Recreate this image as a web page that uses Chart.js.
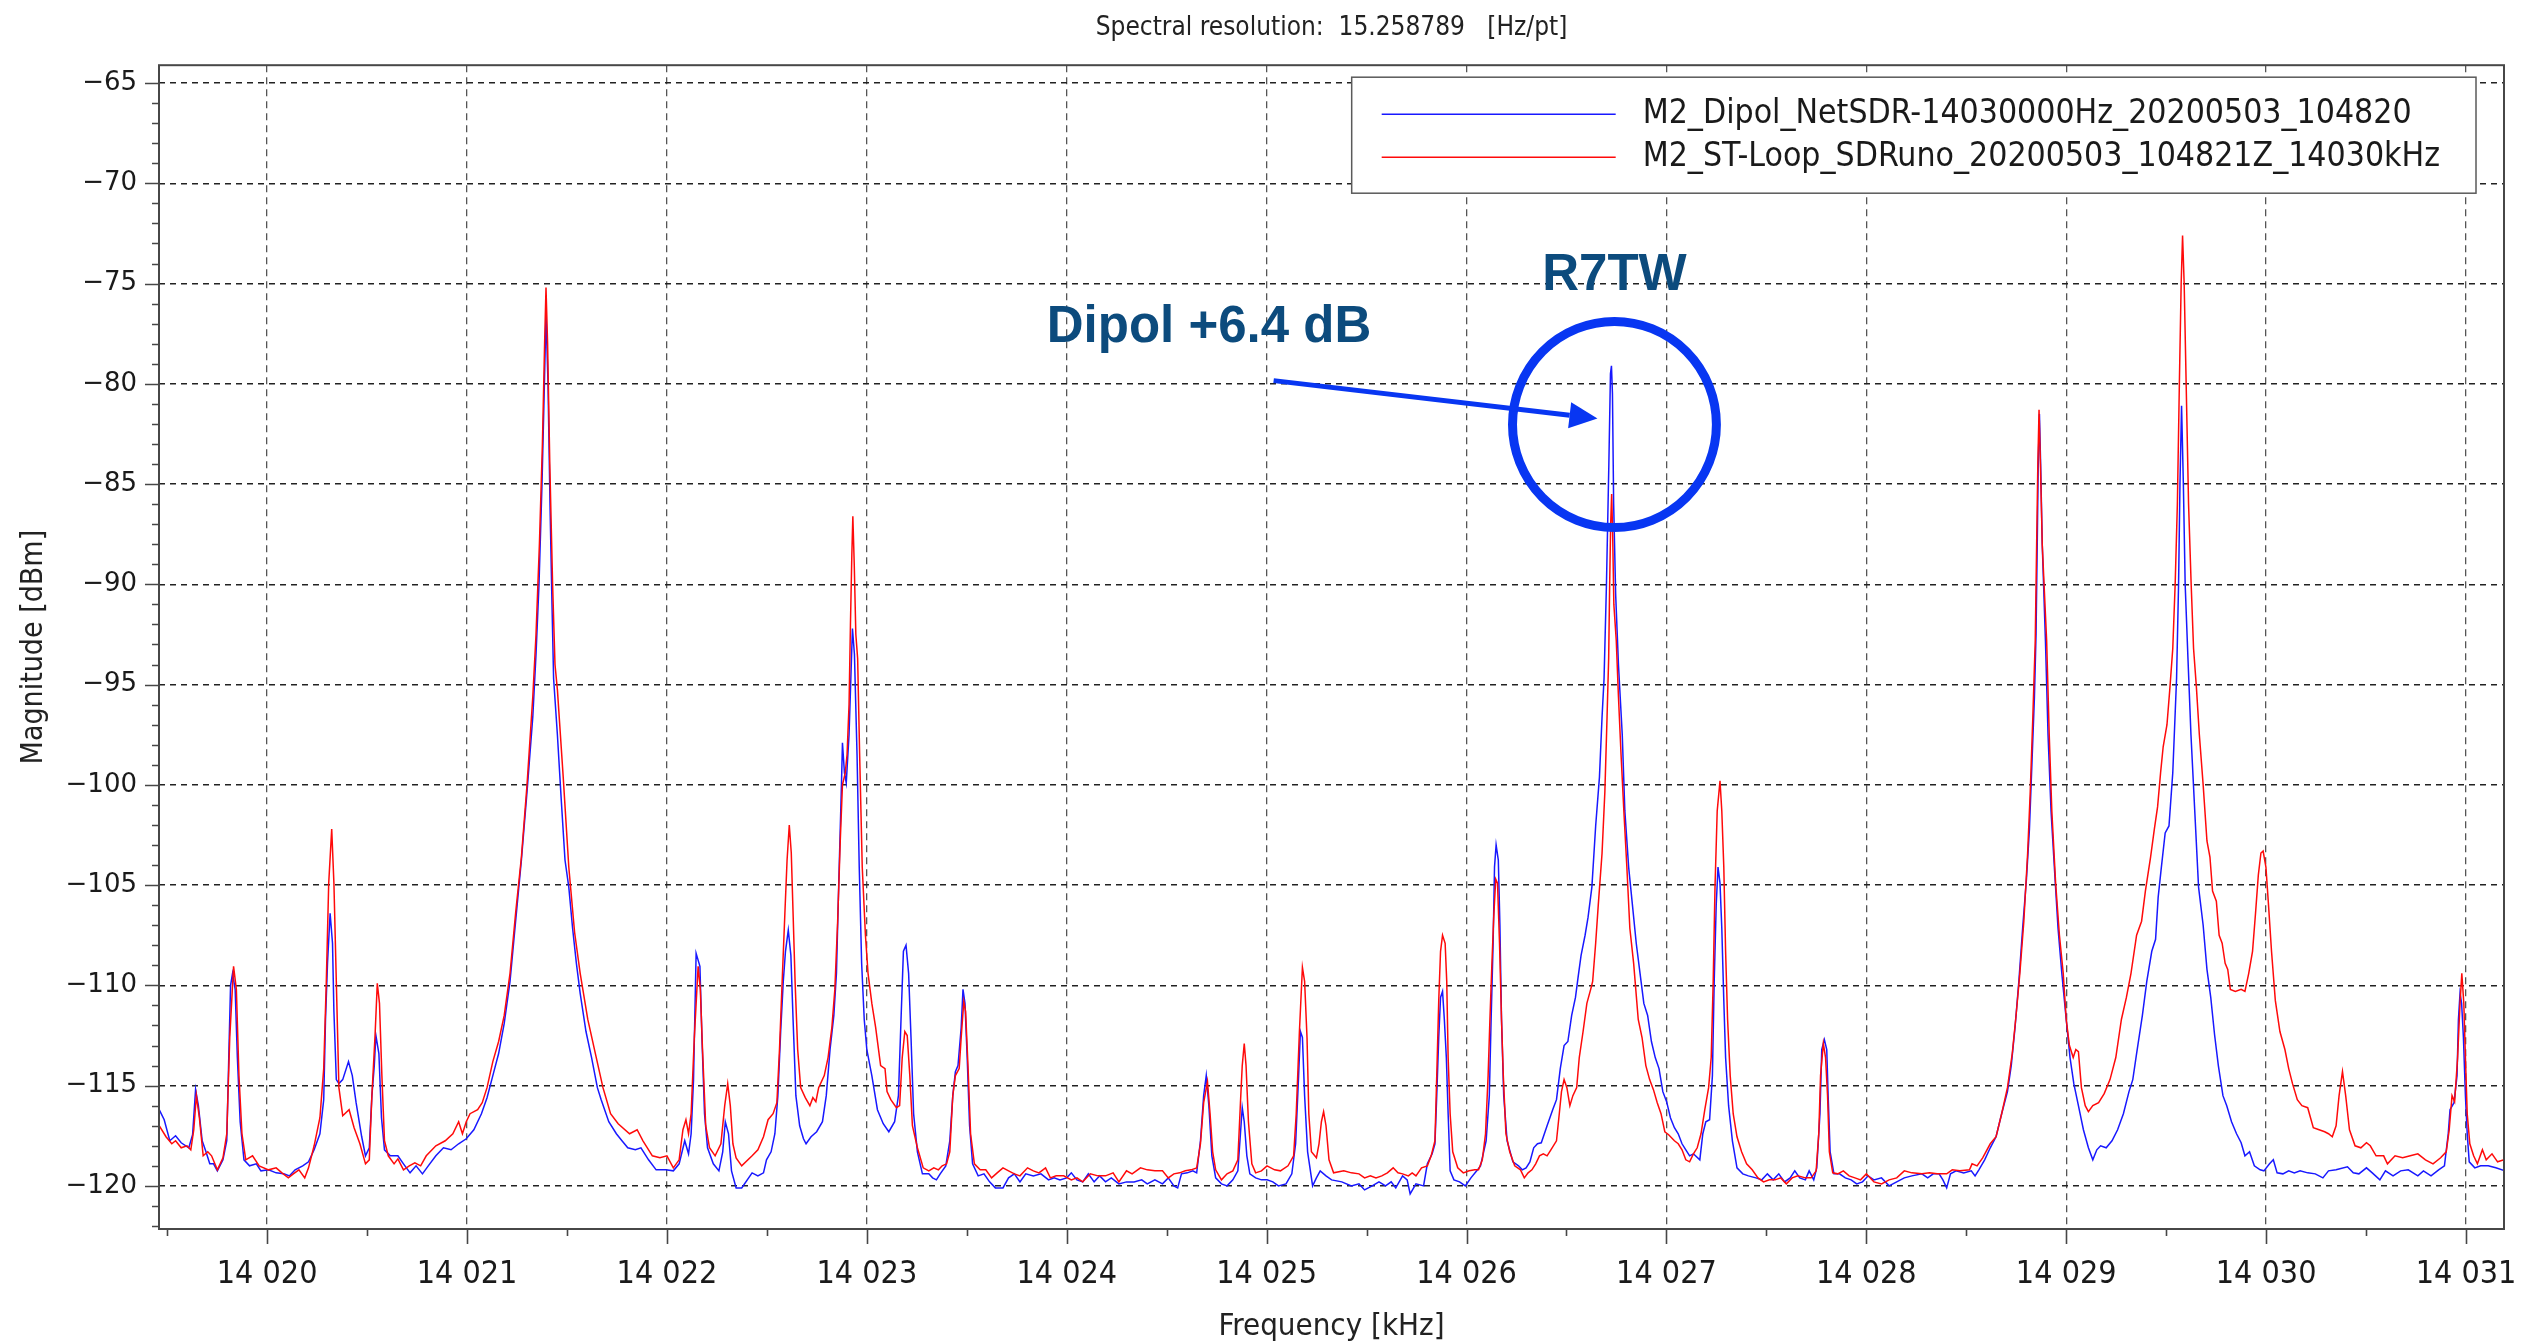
<!DOCTYPE html>
<html>
<head>
<meta charset="utf-8">
<title>Spectral resolution</title>
<script src="https://cdn.jsdelivr.net/npm/chart.js@4.4.1/dist/chart.umd.min.js"></script>
<style>
  html, body { margin: 0; padding: 0; background: #fff; }
  #spectrum { display: block; }
</style>
</head>
<body>
<canvas id="spectrum" width="2545" height="1343"></canvas>
<script>
// Dipole receiver trace (NetSDR), frequency in kHz and magnitude in dBm
const dipolKHz = [
  14019.460, 14019.485, 14019.513, 14019.542, 14019.570, 14019.608, 14019.627, 14019.642,
  14019.656, 14019.675, 14019.694, 14019.713, 14019.732, 14019.751, 14019.779, 14019.798,
  14019.808, 14019.817, 14019.827, 14019.840, 14019.851, 14019.865, 14019.884, 14019.912,
  14019.946, 14019.969, 14020.007, 14020.045, 14020.083, 14020.112, 14020.140, 14020.178,
  14020.207, 14020.235, 14020.264, 14020.283, 14020.292, 14020.302, 14020.315, 14020.327,
  14020.334, 14020.346, 14020.359, 14020.378, 14020.407, 14020.426, 14020.445, 14020.473,
  14020.492, 14020.511, 14020.524, 14020.536, 14020.544, 14020.559, 14020.572, 14020.587,
  14020.616, 14020.654, 14020.682, 14020.715, 14020.745, 14020.777, 14020.806, 14020.844,
  14020.882, 14020.920, 14020.958, 14020.996, 14021.034, 14021.072, 14021.100, 14021.129,
  14021.158, 14021.186, 14021.215, 14021.243, 14021.272, 14021.300, 14021.329, 14021.345,
  14021.360, 14021.375, 14021.387, 14021.395, 14021.405, 14021.415, 14021.425, 14021.433,
  14021.452, 14021.471, 14021.490, 14021.509, 14021.528, 14021.547, 14021.566, 14021.595,
  14021.623, 14021.652, 14021.671, 14021.709, 14021.747, 14021.775, 14021.804, 14021.842,
  14021.870, 14021.908, 14021.946, 14021.994, 14022.032, 14022.061, 14022.089, 14022.108,
  14022.121, 14022.133, 14022.146, 14022.165, 14022.175, 14022.188, 14022.203, 14022.232,
  14022.260, 14022.279, 14022.292, 14022.308, 14022.323, 14022.346, 14022.374, 14022.426,
  14022.455, 14022.483, 14022.498, 14022.521, 14022.540, 14022.555, 14022.569, 14022.582,
  14022.593, 14022.607, 14022.620, 14022.631, 14022.645, 14022.664, 14022.683, 14022.696,
  14022.721, 14022.749, 14022.778, 14022.797, 14022.816, 14022.835, 14022.848, 14022.859,
  14022.873, 14022.878, 14022.888, 14022.897, 14022.911, 14022.920, 14022.928, 14022.938,
  14022.951, 14022.962, 14022.974, 14022.987, 14023.000, 14023.025, 14023.053, 14023.082,
  14023.110, 14023.139, 14023.158, 14023.171, 14023.183, 14023.196, 14023.209, 14023.221,
  14023.234, 14023.253, 14023.278, 14023.310, 14023.329, 14023.348, 14023.367, 14023.395,
  14023.415, 14023.430, 14023.443, 14023.456, 14023.472, 14023.481, 14023.491, 14023.502,
  14023.514, 14023.529, 14023.557, 14023.586, 14023.614, 14023.643, 14023.681, 14023.709,
  14023.738, 14023.766, 14023.795, 14023.833, 14023.871, 14023.909, 14023.937, 14023.966,
  14024.000, 14024.023, 14024.051, 14024.080, 14024.108, 14024.137, 14024.165, 14024.194,
  14024.223, 14024.261, 14024.299, 14024.337, 14024.375, 14024.403, 14024.441, 14024.479,
  14024.508, 14024.536, 14024.555, 14024.574, 14024.603, 14024.631, 14024.650, 14024.669,
  14024.685, 14024.698, 14024.711, 14024.726, 14024.745, 14024.774, 14024.802, 14024.831,
  14024.856, 14024.869, 14024.878, 14024.888, 14024.901, 14024.916, 14024.945, 14024.974,
  14025.002, 14025.031, 14025.059, 14025.097, 14025.126, 14025.145, 14025.160, 14025.169,
  14025.179, 14025.190, 14025.205, 14025.230, 14025.249, 14025.268, 14025.297, 14025.325,
  14025.376, 14025.424, 14025.462, 14025.490, 14025.528, 14025.562, 14025.595, 14025.623,
  14025.646, 14025.680, 14025.703, 14025.718, 14025.747, 14025.785, 14025.804, 14025.828,
  14025.842, 14025.851, 14025.861, 14025.870, 14025.880, 14025.889, 14025.899, 14025.908,
  14025.918, 14025.937, 14025.965, 14025.994, 14026.022, 14026.051, 14026.070, 14026.098,
  14026.114, 14026.123, 14026.133, 14026.140, 14026.148, 14026.159, 14026.167, 14026.175,
  14026.186, 14026.203, 14026.232, 14026.260, 14026.279, 14026.298, 14026.317, 14026.336,
  14026.355, 14026.374, 14026.403, 14026.431, 14026.450, 14026.469, 14026.488, 14026.507,
  14026.526, 14026.545, 14026.558, 14026.573, 14026.593, 14026.608, 14026.627, 14026.646,
  14026.665, 14026.678, 14026.688, 14026.700, 14026.712, 14026.720, 14026.725, 14026.730,
  14026.736, 14026.746, 14026.760, 14026.779, 14026.792, 14026.811, 14026.830, 14026.849,
  14026.868, 14026.887, 14026.906, 14026.925, 14026.944, 14026.963, 14026.982, 14027.001,
  14027.020, 14027.040, 14027.059, 14027.078, 14027.097, 14027.116, 14027.135, 14027.167,
  14027.182, 14027.197, 14027.216, 14027.230, 14027.239, 14027.249, 14027.258, 14027.268,
  14027.277, 14027.287, 14027.296, 14027.311, 14027.330, 14027.353, 14027.382, 14027.410,
  14027.448, 14027.477, 14027.505, 14027.534, 14027.562, 14027.591, 14027.619, 14027.642,
  14027.667, 14027.695, 14027.714, 14027.737, 14027.752, 14027.768, 14027.777, 14027.790,
  14027.802, 14027.809, 14027.819, 14027.838, 14027.866, 14027.895, 14027.924, 14027.952,
  14027.981, 14028.009, 14028.038, 14028.076, 14028.114, 14028.152, 14028.190, 14028.228,
  14028.278, 14028.307, 14028.335, 14028.364, 14028.383, 14028.402, 14028.421, 14028.449,
  14028.487, 14028.525, 14028.544, 14028.563, 14028.592, 14028.620, 14028.649, 14028.677,
  14028.706, 14028.725, 14028.744, 14028.763, 14028.782, 14028.801, 14028.816, 14028.829,
  14028.841, 14028.849, 14028.855, 14028.860, 14028.866, 14028.872, 14028.880, 14028.896,
  14028.909, 14028.924, 14028.943, 14028.959, 14028.978, 14029.000, 14029.019, 14029.038,
  14029.061, 14029.086, 14029.111, 14029.133, 14029.153, 14029.172, 14029.200, 14029.229,
  14029.257, 14029.286, 14029.314, 14029.333, 14029.352, 14029.381, 14029.403, 14029.428,
  14029.447, 14029.460, 14029.476, 14029.495, 14029.514, 14029.533, 14029.552, 14029.562,
  14029.569, 14029.577, 14029.586, 14029.595, 14029.609, 14029.624, 14029.643, 14029.662,
  14029.685, 14029.704, 14029.723, 14029.742, 14029.761, 14029.784, 14029.803, 14029.827,
  14029.852, 14029.875, 14029.894, 14029.917, 14029.941, 14029.970, 14029.989, 14030.017,
  14030.036, 14030.055, 14030.084, 14030.113, 14030.141, 14030.170, 14030.208, 14030.246,
  14030.284, 14030.312, 14030.350, 14030.407, 14030.436, 14030.464, 14030.502, 14030.531,
  14030.569, 14030.597, 14030.635, 14030.673, 14030.711, 14030.759, 14030.787, 14030.825,
  14030.863, 14030.892, 14030.911, 14030.920, 14030.940, 14030.955, 14030.962, 14030.970,
  14030.978, 14030.987, 14030.997, 14031.006, 14031.016, 14031.044, 14031.073, 14031.111,
  14031.149, 14031.196
];
const dipolDbm = [
  -116.2, -116.7, -117.75, -117.5, -117.85, -118.1, -117.45, -115.2,
  -116.0, -117.75, -118.3, -118.9, -118.9, -119.25, -118.7, -117.75,
  -113.6, -110.0, -109.4, -110.2, -113.6, -116.8, -118.7, -119.0,
  -118.9, -119.25, -119.2, -119.35, -119.4, -119.5, -119.2, -119.0,
  -118.8, -118.2, -117.4, -115.7, -111.7, -108.9, -106.4, -107.9,
  -111.3, -114.7, -114.9, -114.7, -113.8, -114.5, -115.85, -117.55,
  -118.5, -118.1, -115.5, -114.0, -112.5, -113.4, -116.6, -118.2,
  -118.5, -118.5, -118.9, -119.35, -119.0, -119.4, -119.0, -118.5,
  -118.1, -118.2, -117.9, -117.65, -117.2, -116.4, -115.6, -114.5,
  -113.4, -111.9, -109.8, -106.8, -103.75, -100.35, -96.6, -93.5,
  -90.0, -85.0, -80.0, -76.5, -80.0, -86.0, -91.0, -94.7,
  -97.5, -100.7, -103.75, -105.1, -107.15, -108.9, -110.4, -112.3,
  -113.6, -115.1, -115.7, -116.8, -117.4, -117.75, -118.1, -118.2,
  -118.1, -118.7, -119.2, -119.2, -119.25, -118.9, -117.75, -118.4,
  -117.4, -114.7, -108.4, -109.05, -112.6, -116.4, -118.1, -118.9,
  -119.25, -118.3, -116.8, -117.4, -119.25, -120.1, -120.1, -119.35,
  -119.5, -119.35, -118.7, -118.3, -117.4, -115.5, -112.3, -109.8,
  -108.3, -107.25, -108.5, -111.7, -115.5, -117.0, -117.65, -117.9,
  -117.55, -117.3, -116.8, -115.5, -113.2, -111.5, -109.4, -105.1,
  -100.0, -97.9, -99.4, -99.9, -97.5, -94.7, -92.2, -93.5,
  -98.5, -104.1, -108.9, -111.7, -113.2, -114.5, -116.2, -116.9,
  -117.3, -116.8, -115.5, -111.7, -108.3, -108.0, -109.4, -112.6,
  -116.4, -118.3, -119.4, -119.4, -119.6, -119.7, -119.4, -119.0,
  -117.75, -115.5, -114.3, -114.0, -112.1, -110.2, -110.9, -113.6,
  -117.0, -118.9, -119.5, -119.4, -119.8, -120.1, -120.1, -119.6,
  -119.4, -119.8, -119.4, -119.5, -119.4, -119.7, -119.6, -119.7,
  -119.6, -119.35, -119.7, -119.8, -119.4, -119.8, -119.5, -119.8,
  -119.6, -119.9, -119.8, -119.8, -119.7, -119.9, -119.7, -119.9,
  -119.6, -120.0, -120.1, -119.4, -119.35, -119.25, -119.35, -117.75,
  -115.5, -114.5, -116.0, -118.5, -119.6, -119.9, -120.0, -119.7,
  -119.25, -117.4, -116.1, -116.8, -118.5, -119.4, -119.6, -119.7,
  -119.7, -119.8, -120.0, -119.9, -119.4, -117.9, -114.5, -112.3,
  -112.6, -115.5, -118.3, -120.0, -119.6, -119.25, -119.5, -119.7,
  -119.8, -120.0, -119.9, -120.2, -120.0, -119.8, -120.0, -119.8,
  -120.1, -119.5, -119.7, -120.4, -119.9, -120.0, -118.9, -118.4,
  -117.9, -115.5, -112.6, -110.6, -110.3, -111.7, -113.6, -116.4,
  -119.25, -119.7, -119.8, -120.0, -119.6, -119.25, -119.0, -117.75,
  -115.5, -111.7, -107.9, -104.1, -103.0, -103.75, -107.0, -111.7,
  -115.5, -117.75, -118.8, -119.0, -119.2, -119.1, -118.8, -118.1,
  -117.9, -117.85, -117.0, -116.2, -115.7, -114.15, -113.0, -112.8,
  -111.5, -110.6, -109.6, -108.5, -107.5, -106.6, -105.1, -102.05,
  -99.6, -96.6, -94.7, -90.0, -84.0, -79.5, -79.1, -80.5,
  -86.0, -90.5, -94.0, -97.5, -101.3, -104.1, -106.0, -107.9,
  -109.4, -110.9, -111.5, -112.8, -113.6, -114.15, -115.3, -115.8,
  -116.6, -117.1, -117.4, -117.9, -118.2, -118.5, -118.4, -118.7,
  -117.4, -116.8, -116.7, -114.5, -109.8, -106.0, -104.1, -104.9,
  -107.15, -110.75, -113.6, -116.0, -117.75, -119.1, -119.4, -119.5,
  -119.6, -119.7, -119.4, -119.7, -119.4, -119.8, -119.6, -119.25,
  -119.6, -119.7, -119.25, -119.7, -119.1, -116.4, -113.2, -112.7,
  -113.2, -115.5, -118.3, -119.4, -119.4, -119.6, -119.7, -119.9,
  -119.8, -119.5, -119.7, -119.6, -120.0, -119.8, -119.6, -119.5,
  -119.4, -119.6, -119.4, -119.4, -119.7, -120.1, -119.4, -119.25,
  -119.35, -119.25, -119.5, -119.2, -118.7, -118.1, -117.55, -116.4,
  -115.3, -114.0, -112.1, -109.8, -107.15, -104.7, -102.2, -98.8,
  -95.6, -92.5, -88.0, -84.0, -81.5, -84.0, -88.0, -92.8,
  -97.5, -101.3, -104.5, -107.15, -109.4, -111.7, -113.6, -114.9,
  -116.0, -117.2, -118.1, -118.7, -118.2, -118.0, -118.1, -117.75,
  -117.2, -116.4, -115.3, -114.7, -113.4, -111.5, -109.8, -108.3,
  -107.7, -105.6, -104.1, -102.4, -102.05, -99.4, -94.7, -90.0,
  -85.0, -81.1, -85.0, -90.0, -93.7, -97.5, -101.3, -105.1,
  -107.0, -109.2, -110.6, -112.45, -114.0, -115.5, -116.0, -116.8,
  -117.4, -117.85, -118.5, -118.3, -119.0, -119.2, -119.25, -118.9,
  -118.7, -119.35, -119.4, -119.25, -119.35, -119.25, -119.35, -119.4,
  -119.6, -119.25, -119.2, -119.05, -119.35, -119.4, -119.1, -119.35,
  -119.7, -119.25, -119.5, -119.25, -119.2, -119.5, -119.25, -119.5,
  -119.2, -119.0, -117.4, -116.2, -115.85, -114.5, -111.7, -110.4,
  -110.9, -112.6, -115.5, -117.4, -118.8, -119.1, -119.0, -119.0,
  -119.1, -119.25
];

// Small-loop receiver trace (SDRuno), frequency in kHz and magnitude in dBm
const loopKHz = [
  14019.460, 14019.494, 14019.523, 14019.542, 14019.570, 14019.599, 14019.618, 14019.633,
  14019.646, 14019.661, 14019.680, 14019.703, 14019.722, 14019.751, 14019.779, 14019.798,
  14019.813, 14019.832, 14019.846, 14019.859, 14019.874, 14019.893, 14019.927, 14019.960,
  14020.007, 14020.045, 14020.074, 14020.106, 14020.131, 14020.159, 14020.188, 14020.207,
  14020.235, 14020.264, 14020.283, 14020.296, 14020.308, 14020.323, 14020.334, 14020.346,
  14020.359, 14020.378, 14020.410, 14020.435, 14020.464, 14020.492, 14020.511, 14020.524,
  14020.540, 14020.551, 14020.562, 14020.574, 14020.587, 14020.606, 14020.635, 14020.654,
  14020.682, 14020.711, 14020.739, 14020.768, 14020.796, 14020.844, 14020.891, 14020.929,
  14020.958, 14020.977, 14020.996, 14021.015, 14021.053, 14021.076, 14021.100, 14021.129,
  14021.158, 14021.186, 14021.215, 14021.243, 14021.272, 14021.300, 14021.329, 14021.345,
  14021.362, 14021.377, 14021.388, 14021.395, 14021.403, 14021.414, 14021.428, 14021.440,
  14021.452, 14021.481, 14021.509, 14021.538, 14021.566, 14021.604, 14021.642, 14021.680,
  14021.718, 14021.756, 14021.813, 14021.851, 14021.880, 14021.927, 14021.965, 14022.000,
  14022.032, 14022.061, 14022.080, 14022.095, 14022.108, 14022.121, 14022.137, 14022.156,
  14022.167, 14022.178, 14022.194, 14022.213, 14022.241, 14022.270, 14022.289, 14022.304,
  14022.317, 14022.330, 14022.346, 14022.374, 14022.426, 14022.455, 14022.483, 14022.506,
  14022.531, 14022.550, 14022.563, 14022.578, 14022.590, 14022.601, 14022.612, 14022.622,
  14022.631, 14022.641, 14022.654, 14022.669, 14022.692, 14022.715, 14022.730, 14022.745,
  14022.759, 14022.787, 14022.806, 14022.825, 14022.840, 14022.854, 14022.867, 14022.878,
  14022.892, 14022.901, 14022.911, 14022.918, 14022.925, 14022.930, 14022.937, 14022.945,
  14022.954, 14022.964, 14022.977, 14022.993, 14023.006, 14023.025, 14023.044, 14023.069,
  14023.091, 14023.101, 14023.120, 14023.148, 14023.164, 14023.177, 14023.190, 14023.202,
  14023.215, 14023.228, 14023.253, 14023.282, 14023.310, 14023.335, 14023.358, 14023.377,
  14023.399, 14023.415, 14023.430, 14023.443, 14023.462, 14023.472, 14023.485, 14023.494,
  14023.506, 14023.519, 14023.538, 14023.567, 14023.595, 14023.624, 14023.652, 14023.681,
  14023.709, 14023.738, 14023.766, 14023.804, 14023.833, 14023.861, 14023.894, 14023.918,
  14023.947, 14023.985, 14024.023, 14024.051, 14024.080, 14024.118, 14024.156, 14024.194,
  14024.232, 14024.261, 14024.299, 14024.327, 14024.369, 14024.403, 14024.441, 14024.479,
  14024.508, 14024.536, 14024.565, 14024.593, 14024.622, 14024.650, 14024.669, 14024.685,
  14024.704, 14024.717, 14024.730, 14024.745, 14024.774, 14024.802, 14024.831, 14024.856,
  14024.869, 14024.878, 14024.888, 14024.897, 14024.909, 14024.926, 14024.945, 14024.974,
  14025.002, 14025.040, 14025.069, 14025.107, 14025.135, 14025.148, 14025.164, 14025.179,
  14025.190, 14025.202, 14025.211, 14025.224, 14025.249, 14025.262, 14025.274, 14025.285,
  14025.297, 14025.312, 14025.335, 14025.386, 14025.424, 14025.462, 14025.490, 14025.519,
  14025.547, 14025.576, 14025.604, 14025.633, 14025.657, 14025.680, 14025.709, 14025.728,
  14025.747, 14025.775, 14025.804, 14025.823, 14025.842, 14025.851, 14025.861, 14025.870,
  14025.880, 14025.893, 14025.901, 14025.908, 14025.918, 14025.931, 14025.956, 14025.984,
  14026.013, 14026.041, 14026.060, 14026.079, 14026.095, 14026.108, 14026.117, 14026.127,
  14026.136, 14026.146, 14026.155, 14026.165, 14026.175, 14026.184, 14026.197, 14026.216,
  14026.241, 14026.270, 14026.289, 14026.308, 14026.327, 14026.346, 14026.365, 14026.384,
  14026.403, 14026.422, 14026.450, 14026.464, 14026.475, 14026.488, 14026.502, 14026.517,
  14026.532, 14026.551, 14026.564, 14026.583, 14026.602, 14026.621, 14026.631, 14026.646,
  14026.659, 14026.678, 14026.692, 14026.703, 14026.711, 14026.716, 14026.721, 14026.726,
  14026.731, 14026.737, 14026.749, 14026.760, 14026.773, 14026.787, 14026.802, 14026.817,
  14026.836, 14026.859, 14026.878, 14026.897, 14026.916, 14026.935, 14026.954, 14026.973,
  14026.992, 14027.011, 14027.040, 14027.059, 14027.078, 14027.097, 14027.116, 14027.135,
  14027.154, 14027.173, 14027.192, 14027.211, 14027.224, 14027.234, 14027.243, 14027.254,
  14027.268, 14027.277, 14027.287, 14027.296, 14027.306, 14027.319, 14027.334, 14027.353,
  14027.376, 14027.401, 14027.429, 14027.458, 14027.486, 14027.515, 14027.543, 14027.572,
  14027.600, 14027.629, 14027.657, 14027.695, 14027.724, 14027.749, 14027.762, 14027.771,
  14027.785, 14027.796, 14027.806, 14027.815, 14027.832, 14027.857, 14027.885, 14027.914,
  14027.943, 14027.971, 14028.000, 14028.038, 14028.076, 14028.114, 14028.152, 14028.190,
  14028.228, 14028.278, 14028.316, 14028.354, 14028.402, 14028.430, 14028.468, 14028.516,
  14028.529, 14028.554, 14028.582, 14028.620, 14028.649, 14028.677, 14028.706, 14028.730,
  14028.749, 14028.768, 14028.788, 14028.807, 14028.820, 14028.833, 14028.845, 14028.852,
  14028.858, 14028.864, 14028.871, 14028.880, 14028.902, 14028.915, 14028.928, 14028.947,
  14028.966, 14028.985, 14029.000, 14029.016, 14029.035, 14029.048, 14029.061, 14029.076,
  14029.095, 14029.111, 14029.133, 14029.162, 14029.190, 14029.219, 14029.248, 14029.276,
  14029.301, 14029.324, 14029.352, 14029.377, 14029.396, 14029.422, 14029.441, 14029.457,
  14029.472, 14029.485, 14029.504, 14029.518, 14029.533, 14029.545, 14029.556, 14029.566,
  14029.575, 14029.582, 14029.590, 14029.600, 14029.612, 14029.625, 14029.637, 14029.651,
  14029.666, 14029.685, 14029.704, 14029.719, 14029.732, 14029.751, 14029.765, 14029.780,
  14029.795, 14029.808, 14029.821, 14029.846, 14029.875, 14029.894, 14029.913, 14029.932,
  14029.947, 14029.961, 14029.974, 14029.985, 14029.999, 14030.012, 14030.027, 14030.046,
  14030.069, 14030.094, 14030.113, 14030.132, 14030.156, 14030.179, 14030.208, 14030.236,
  14030.265, 14030.293, 14030.312, 14030.331, 14030.350, 14030.365, 14030.382, 14030.398,
  14030.417, 14030.445, 14030.474, 14030.502, 14030.521, 14030.550, 14030.588, 14030.607,
  14030.645, 14030.683, 14030.721, 14030.759, 14030.797, 14030.835, 14030.873, 14030.901,
  14030.916, 14030.930, 14030.943, 14030.958, 14030.970, 14030.979, 14030.989, 14030.997,
  14031.006, 14031.019, 14031.038, 14031.057, 14031.082, 14031.101, 14031.130, 14031.158,
  14031.190
];
const loopDbm = [
  -117.0, -117.55, -117.9, -117.75, -118.1, -118.0, -118.2, -117.2,
  -115.5, -116.6, -118.5, -118.3, -118.5, -119.2, -118.6, -117.4,
  -112.6, -109.05, -110.2, -114.5, -117.4, -118.7, -118.5, -119.0,
  -119.2, -119.1, -119.35, -119.6, -119.4, -119.2, -119.6, -119.1,
  -118.0, -116.6, -114.15, -109.8, -104.9, -102.2, -104.9, -109.8,
  -115.1, -116.5, -116.2, -117.1, -117.9, -118.9, -118.7, -115.5,
  -112.45, -109.9, -110.9, -114.5, -117.75, -118.5, -118.9, -118.65,
  -119.2, -119.0, -118.85, -119.0, -118.5, -118.0, -117.75, -117.4,
  -116.8, -117.4, -116.8, -116.4, -116.2, -115.85, -115.1, -113.8,
  -112.8, -111.5, -109.4, -106.4, -103.6, -100.0, -95.6, -92.5,
  -88.0, -83.0, -78.0, -75.2, -78.0, -84.0, -90.0, -94.0,
  -95.25, -99.6, -104.1, -107.35, -109.4, -111.7, -113.4, -115.1,
  -116.4, -116.9, -117.4, -117.2, -117.75, -118.5, -118.6, -118.5,
  -119.1, -118.7, -117.2, -116.7, -117.4, -116.4, -112.6, -109.05,
  -110.2, -113.2, -117.0, -118.1, -118.5, -117.9, -116.0, -114.9,
  -116.0, -117.9, -118.6, -119.0, -118.5, -118.2, -117.55, -116.7,
  -116.4, -115.85, -113.2, -109.4, -106.4, -103.75, -102.0, -103.4,
  -106.4, -109.8, -113.2, -115.1, -115.6, -116.0, -115.6, -115.8,
  -115.1, -114.5, -113.6, -112.1, -110.2, -106.8, -102.8, -100.0,
  -99.4, -98.5, -96.0, -92.0, -88.5, -86.6, -89.0, -92.5,
  -93.7, -98.5, -104.1, -107.5, -109.4, -110.9, -112.1, -114.0,
  -114.15, -115.3, -115.7, -116.1, -116.0, -113.6, -112.3, -112.5,
  -114.5, -117.0, -118.1, -119.1, -119.25, -119.1, -119.2, -119.0,
  -118.9, -118.3, -115.5, -114.5, -114.15, -112.6, -110.8, -111.3,
  -114.0, -117.4, -118.9, -119.2, -119.2, -119.6, -119.35, -119.1,
  -119.25, -119.4, -119.5, -119.1, -119.25, -119.35, -119.1, -119.6,
  -119.5, -119.5, -119.7, -119.6, -119.8, -119.4, -119.5, -119.5,
  -119.35, -119.8, -119.25, -119.4, -119.1, -119.2, -119.25, -119.25,
  -119.6, -119.4, -119.35, -119.25, -119.2, -119.1, -117.9, -115.85,
  -114.8, -116.4, -118.3, -119.2, -119.7, -119.4, -119.25, -118.7,
  -115.85, -114.0, -112.9, -114.0, -116.8, -118.9, -119.35, -119.25,
  -119.0, -119.2, -119.25, -119.0, -118.5, -116.4, -112.3, -109.1,
  -109.8, -112.6, -116.4, -118.3, -118.6, -117.9, -116.8, -116.3,
  -117.0, -118.7, -119.35, -119.25, -119.35, -119.4, -119.6, -119.5,
  -119.6, -119.5, -119.35, -119.1, -119.35, -119.4, -119.5, -119.35,
  -119.5, -119.1, -119.0, -118.5, -117.75, -114.5, -110.75, -108.3,
  -107.5, -107.9, -109.8, -113.6, -116.4, -118.3, -119.1, -119.35,
  -119.25, -119.2, -119.2, -118.7, -117.4, -114.5, -111.7, -108.9,
  -106.6, -104.7, -104.9, -107.9, -111.7, -114.5, -117.4, -118.3,
  -119.0, -119.2, -119.6, -119.35, -119.2, -118.9, -118.5, -118.4,
  -118.5, -118.2, -117.75, -116.4, -115.3, -114.7, -115.1, -116.0,
  -115.5, -115.1, -113.6, -112.3, -110.9, -110.2, -109.8, -107.9,
  -106.0, -103.4, -100.35, -96.6, -93.7, -90.0, -87.0, -85.5,
  -87.5, -91.0, -92.8, -95.6, -98.5, -101.3, -104.1, -107.15,
  -108.9, -111.7, -112.6, -114.0, -114.7, -115.2, -115.85, -116.4,
  -117.3, -117.45, -117.75, -117.9, -118.2, -118.7, -118.8, -118.4,
  -118.1, -117.4, -116.2, -115.1, -113.6, -109.8, -105.1, -101.3,
  -99.8, -101.3, -104.1, -108.3, -111.7, -114.5, -116.4, -117.55,
  -118.3, -118.9, -119.2, -119.6, -119.8, -119.7, -119.7, -119.6,
  -119.9, -119.6, -119.5, -119.6, -119.6, -119.25, -117.4, -114.5,
  -112.9, -113.6, -115.5, -118.3, -119.35, -119.4, -119.25, -119.5,
  -119.6, -119.7, -119.4, -119.8, -119.9, -119.7, -119.6, -119.25,
  -119.35, -119.4, -119.35, -119.4, -119.4, -119.2, -119.25, -119.2,
  -118.9, -119.0, -118.6, -117.9, -117.55, -116.4, -115.1, -113.4,
  -111.5, -109.4, -106.8, -103.4, -100.35, -96.6, -92.8, -88.0,
  -84.0, -81.3, -84.0, -88.0, -92.8, -97.5, -101.3, -104.9,
  -107.5, -109.4, -111.7, -113.0, -113.6, -113.2, -113.3, -115.1,
  -116.0, -116.3, -116.0, -115.85, -115.4, -114.7, -113.6, -111.7,
  -110.6, -109.4, -107.5, -106.8, -105.3, -103.6, -102.2, -101.1,
  -99.4, -98.1, -97.0, -95.25, -93.2, -90.0, -86.0, -80.0,
  -75.0, -72.6, -75.0, -80.0, -86.0, -90.0, -93.2, -95.1,
  -97.5, -100.0, -102.8, -103.6, -105.3, -105.8, -107.5, -107.9,
  -108.9, -109.2, -110.2, -110.3, -110.2, -110.3, -109.4, -108.3,
  -106.4, -104.5, -103.4, -103.3, -104.1, -106.0, -108.3, -110.75,
  -112.3, -113.2, -114.15, -114.9, -115.7, -116.0, -116.1, -117.1,
  -117.2, -117.3, -117.4, -117.55, -117.0, -115.5, -114.3, -115.5,
  -117.2, -118.0, -118.1, -117.85, -118.0, -118.5, -118.5, -118.9,
  -118.5, -118.6, -118.5, -118.4, -118.7, -118.9, -118.6, -118.3,
  -117.2, -115.5, -115.8, -113.6, -110.9, -109.4, -110.9, -113.6,
  -116.4, -117.9, -118.5, -118.9, -118.2, -118.7, -118.4, -118.8,
  -118.7
];

const seriesLabels = [
  'M2_Dipol_NetSDR-14030000Hz_20200503_104820',
  'M2_ST-Loop_SDRuno_20200503_104821Z_14030kHz'
];
const freqTicks = [14020, 14021, 14022, 14023, 14024, 14025, 14026, 14027, 14028, 14029, 14030, 14031];
const magTicks = [-120, -115, -110, -105, -100, -95, -90, -85, -80, -75, -70, -65];
const headline = 'Spectral resolution:  15.258789   [Hz/pt]';

// the R7TW callout: circle around the carrier, arrow and gain label
const stationName = 'R7TW';
const stationWindow = [14026.6, 14026.85];

const narrow = '"DejaVu Sans Condensed", "Liberation Sans Narrow", "DejaVu Sans", sans-serif';
const plain = '"DejaVu Sans", sans-serif';
const calloutFont = '"Liberation Sans", Arial, sans-serif';

function peakIn(xs, ys, lo, hi) {
  let best = -Infinity;
  xs.forEach((x, i) => { if (x >= lo && x <= hi && ys[i] > best) best = ys[i]; });
  return best;
}

function toPoints(xs, ys) {
  return xs.map((x, i) => ({ x: x, y: ys[i] }));
}

// heading centred over the plot area rather than the whole canvas
const headingText = {
  id: 'headingText',
  afterDraw(chart) {
    const { ctx, chartArea: a } = chart;
    ctx.save();
    ctx.font = '26px ' + narrow;
    ctx.fillStyle = '#222';
    ctx.textAlign = 'center';
    ctx.textBaseline = 'middle';
    ctx.fillText(headline, (a.left + a.right) / 2, 28.6);
    ctx.restore();
  }
};

// outer frame plus major/minor tick marks
const frameTicks = {
  id: 'frameTicks',
  afterDatasetsDraw(chart) {
    const { ctx, chartArea: a, scales: { x, y } } = chart;
    ctx.save();
    ctx.strokeStyle = '#474747';
    ctx.lineWidth = 1.6;
    ctx.beginPath();
    for (let v = Math.ceil(y.min); v <= y.max; v++) {
      const py = Math.round(y.getPixelForValue(v)) + 0.5;
      const len = v % 5 === 0 ? 14 : 7;
      ctx.moveTo(a.left - len, py);
      ctx.lineTo(a.left, py);
    }
    for (let v = Math.ceil(x.min * 2) / 2; v <= x.max; v += 0.5) {
      const px = Math.round(x.getPixelForValue(v)) + 0.5;
      const len = Number.isInteger(v) ? 15 : 7;
      ctx.moveTo(px, a.bottom);
      ctx.lineTo(px, a.bottom + len);
    }
    ctx.stroke();
    ctx.lineWidth = 2;
    ctx.strokeRect(a.left, a.top, a.right - a.left, a.bottom - a.top);
    ctx.restore();
  }
};

// legend box in the upper right corner of the plot
const legendBox = {
  id: 'legendBox',
  afterDatasetsDraw(chart) {
    const { ctx, chartArea: a } = chart;
    const sets = chart.data.datasets;
    ctx.save();
    ctx.font = '33.5px ' + narrow;
    const textW = Math.max(...sets.map(d => ctx.measureText(d.label).width));
    const w = 291 + textW + 36;
    const h = 116;
    const x0 = a.right - 28 - w;
    const y0 = a.top + 12;
    ctx.fillStyle = '#fff';
    ctx.fillRect(x0, y0, w, h);
    ctx.strokeStyle = '#5a5a5a';
    ctx.lineWidth = 1.5;
    ctx.strokeRect(x0, y0, w, h);
    sets.forEach((d, i) => {
      const ly = y0 + 37 + i * 43;
      ctx.strokeStyle = d.borderColor;
      ctx.lineWidth = 1.6;
      ctx.beginPath();
      ctx.moveTo(x0 + 30, ly);
      ctx.lineTo(x0 + 264, ly);
      ctx.stroke();
      ctx.fillStyle = '#1a1a1a';
      ctx.textBaseline = 'middle';
      ctx.textAlign = 'left';
      ctx.fillText(d.label, x0 + 291, ly);
    });
    ctx.restore();
  }
};

const callout = {
  id: 'callout',
  afterDatasetsDraw(chart) {
    const { ctx, scales: { x, y } } = chart;
    const [lo, hi] = stationWindow;
    const dipPeak = peakIn(dipolKHz, dipolDbm, lo, hi);
    const loopPeak = peakIn(loopKHz, loopDbm, lo, hi);
    const gain = dipPeak - loopPeak;

    const ringX = x.getPixelForValue(14026.74);
    const ringY = y.getPixelForValue(-82.03);
    const rx = x.getPixelForValue(14026.74 + 0.51) - ringX;
    const ry = y.getPixelForValue(-82.03 - 5.14) - ringY;

    ctx.save();
    ctx.strokeStyle = '#0836f2';
    ctx.fillStyle = '#0836f2';
    ctx.lineWidth = 9;
    ctx.beginPath();
    ctx.ellipse(ringX, ringY, rx, ry, 0, 0, Math.PI * 2);
    ctx.stroke();

    // arrow from the label towards the dipole peak
    const x1 = x.getPixelForValue(14025.035), y1 = y.getPixelForValue(-79.84);
    const x2 = x.getPixelForValue(14026.655), y2 = y.getPixelForValue(-81.73);
    const ang = Math.atan2(y2 - y1, x2 - x1);
    const head = 28, half = 13;
    const bx = x2 - head * Math.cos(ang), by = y2 - head * Math.sin(ang);
    ctx.lineWidth = 5;
    ctx.beginPath();
    ctx.moveTo(x1, y1);
    ctx.lineTo(bx, by);
    ctx.stroke();
    ctx.beginPath();
    ctx.moveTo(x2, y2);
    ctx.lineTo(bx - half * Math.sin(ang), by + half * Math.cos(ang));
    ctx.lineTo(bx + half * Math.sin(ang), by - half * Math.cos(ang));
    ctx.closePath();
    ctx.fill();

    ctx.fillStyle = '#0c4b7d';
    ctx.font = 'bold 51px ' + calloutFont;
    ctx.textBaseline = 'alphabetic';
    ctx.textAlign = 'left';
    ctx.fillText('Dipol +' + gain.toFixed(1) + ' dB', x.getPixelForValue(14023.90), y.getPixelForValue(-77.93));
    ctx.textAlign = 'center';
    ctx.fillText(stationName, ringX, y.getPixelForValue(-75.34));
    ctx.restore();
  }
};

new Chart(document.getElementById('spectrum'), {
  type: 'line',
  data: {
    datasets: [
      {
        label: seriesLabels[0],
        data: toPoints(dipolKHz, dipolDbm),
        borderColor: 'rgb(24,24,255)',
        borderWidth: 1.5,
        pointRadius: 0,
        tension: 0,
        order: 1
      },
      {
        label: seriesLabels[1],
        data: toPoints(loopKHz, loopDbm),
        borderColor: 'rgb(255,10,10)',
        borderWidth: 1.5,
        pointRadius: 0,
        tension: 0,
        order: 0
      }
    ]
  },
  options: {
    responsive: false,
    animation: false,
    devicePixelRatio: 1,
    layout: { padding: { left: 0, right: 41, top: 65.2, bottom: 0 } },
    plugins: {
      legend: { display: false },
      tooltip: { enabled: false },
      title: { display: false }
    },
    scales: {
      x: {
        type: 'linear',
        min: 14019.459,
        max: 14031.19,
        afterBuildTicks: s => { s.ticks = freqTicks.map(v => ({ value: v })); },
        afterFit: s => { s.height = 114; },
        ticks: {
          autoSkip: false,
          maxRotation: 0,
          padding: 26,
          color: '#1a1a1a',
          font: { family: narrow, size: 32 },
          callback: v => { const s = String(Math.round(v)); return s.slice(0, 2) + ' ' + s.slice(2); }
        },
        grid: { color: '#555', lineWidth: 1.3, drawTicks: false },
        border: { display: false, dash: [7, 5] },
        title: {
          display: true,
          text: 'Frequency [kHz]',
          color: '#222',
          font: { family: narrow, size: 31, lineHeight: 1 },
          padding: { top: 0, bottom: 1 }
        }
      },
      y: {
        type: 'linear',
        min: -122.15,
        max: -64.11,
        afterBuildTicks: s => { s.ticks = magTicks.map(v => ({ value: v })); },
        afterFit: s => { s.width = 159; },
        ticks: {
          padding: 22,
          color: '#1a1a1a',
          font: { family: plain, size: 26 },
          callback: v => (v < 0 ? '\u2212' : '') + Math.abs(v)
        },
        grid: { color: '#222', lineWidth: 1.5, drawTicks: false },
        border: { display: false, dash: [6, 5] },
        title: {
          display: true,
          text: 'Magnitude [dBm]',
          color: '#222',
          font: { family: narrow, size: 30, lineHeight: 1 },
          padding: { top: 19, bottom: 0 }
        }
      }
    }
  },
  plugins: [frameTicks, legendBox, callout, headingText]
});
</script>
</body>
</html>
